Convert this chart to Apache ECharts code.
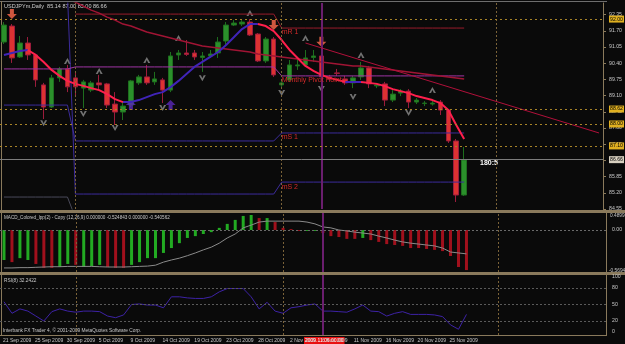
<!DOCTYPE html>
<html><head><meta charset="utf-8">
<script src="https://cdn.jsdelivr.net/npm/echarts@6/dist/echarts.min.js"></script>
<style>html,body{margin:0;padding:0;background:#0a0a0a;}#c{width:625px;height:344px;}</style>
</head><body><div id="c"></div>
<script>
// ---- data ----
const dates = ['21 Sep 2009','22 Sep 2009','23 Sep 2009','24 Sep 2009','25 Sep 2009','27 Sep 2009','28 Sep 2009','29 Sep 2009','30 Sep 2009',
 '1 Oct 2009','2 Oct 2009','4 Oct 2009','5 Oct 2009','6 Oct 2009','7 Oct 2009','8 Oct 2009','9 Oct 2009','11 Oct 2009','12 Oct 2009','13 Oct 2009','14 Oct 2009','15 Oct 2009','16 Oct 2009','18 Oct 2009','19 Oct 2009','20 Oct 2009','21 Oct 2009','22 Oct 2009','23 Oct 2009','25 Oct 2009','26 Oct 2009','27 Oct 2009','28 Oct 2009','29 Oct 2009','30 Oct 2009',
 '1 Nov 2009','2 Nov 2009','3 Nov 2009','4 Nov 2009','5 Nov 2009','6 Nov 2009','8 Nov 2009','9 Nov 2009','10 Nov 2009','11 Nov 2009','12 Nov 2009','13 Nov 2009','15 Nov 2009','16 Nov 2009','17 Nov 2009','18 Nov 2009','19 Nov 2009','20 Nov 2009','22 Nov 2009','23 Nov 2009','24 Nov 2009','25 Nov 2009','26 Nov 2009','27 Nov 2009'];
const futureSlots = 17;
// [open, close, low, high]
const ohlc = [
 [91.25,91.93,91.17,92.05],[91.89,90.61,90.41,91.97],[90.65,91.21,90.61,91.49],[91.21,90.73,90.53,91.45],[90.73,89.73,89.45,90.77],
 [89.53,88.64,88.16,89.61],[88.64,89.81,88.60,89.93],[89.81,90.17,89.65,90.25],[90.17,89.45,89.24,90.33],[89.81,89.45,89.04,90.05],
 [89.40,89.65,88.60,89.73],[89.32,89.61,89.24,89.69],[89.61,89.53,89.32,89.93],[89.57,88.72,88.60,89.61],[88.76,88.44,87.92,89.24],
 [88.44,88.68,88.12,88.84],[88.72,89.69,88.64,89.73],[89.61,89.85,89.53,89.93],[89.85,89.61,89.53,90.33],[89.65,89.77,89.53,90.05],
 [89.73,89.32,88.80,89.81],[89.32,90.69,89.24,90.85],[90.73,90.81,90.53,90.93],[90.81,90.75,90.69,91.33],[90.81,90.65,90.53,90.93],
 [90.63,90.69,90.05,90.85],[90.69,90.77,90.61,90.93],[90.81,91.25,90.61,91.45],[91.29,91.93,91.13,92.05],[91.93,92.01,91.89,92.13],
 [91.97,92.05,91.89,92.13],[92.05,91.53,91.49,92.17],[91.57,90.49,90.45,91.61],[90.49,91.37,90.41,91.45],[91.37,89.93,89.85,91.45],
 [89.53,89.61,89.40,89.73],[89.73,90.33,89.65,90.53],[90.29,90.33,90.13,90.53],[90.33,90.61,90.25,90.93],[90.63,90.69,90.45,90.93],
 [90.69,89.85,89.65,90.93],[89.85,89.77,89.65,89.93],[90.01,89.99,89.89,90.17],[89.77,89.61,89.53,89.89],[89.61,89.81,89.40,89.89],
 [89.85,90.21,89.73,90.45],[90.21,89.57,89.40,90.29],[89.49,89.53,89.40,89.61],[89.57,88.92,88.68,89.65],[88.92,89.16,88.84,89.32],
 [89.20,89.28,89.08,89.36],[89.28,88.84,88.60,89.36],[88.84,88.92,88.76,89.00],[88.78,88.80,88.68,88.88],[88.76,88.80,88.70,88.88],
 [88.84,88.52,88.32,88.92],[88.52,87.28,87.20,88.56],[87.28,85.11,84.83,87.36],[85.11,86.52,85.07,87.04]
];
// colored moving average (blue when rising, red when falling)
const maFast = [90.73,90.81,90.89,90.93,90.73,90.45,90.13,89.89,89.69,89.57,89.49,89.40,89.32,89.16,88.96,88.84,88.84,88.92,89.04,89.16,
 89.24,89.44,89.69,89.97,90.25,90.45,90.65,90.85,91.13,91.45,91.77,91.97,91.97,91.89,91.69,91.33,90.93,90.61,90.29,90.09,
 89.93,89.81,89.73,89.65,89.65,89.65,89.61,89.57,89.48,89.36,89.28,89.20,89.08,89.00,88.92,88.80,88.52,87.92,87.36];
const maSlowStart = 8;
const maSlow = [92.97,92.85,92.69,92.53,92.41,92.25,92.13,91.97,91.89,91.77,91.65,91.57,91.49,91.41,91.33,91.25,91.17,91.09,91.05,
 91.01,90.97,90.93,90.89,90.85,90.77,90.73,90.69,90.65,90.61,90.57,90.53,90.49,90.45,90.41,90.37,90.33,90.29,90.29,90.25,90.21,
 90.17,90.13,90.09,90.05,90.01,89.97,89.93,89.89,89.85,89.81,89.77];
// monthly pivot levels (Sep, Oct, Nov)
const pivMonths = ['Sep','Oct','Nov'];
const pivR1 = [null, 92.37, 91.81];
const pivPP = [90.17, 90.25, 89.89];
const pivS1 = [88.72, 87.28, 87.60];
const pivS2 = [93.20, 85.15, 85.63];
const pivS3 = [85.03, 84.20, null];
// trend lines [index, price]
const trendRed = [[38, 91.21], [75, 87.60]];
const trendTeal = [[22, 92.91], [75, 88.76]];
// markers
const fractalUp = [[8,90.49],[12,90.09],[18,90.53],[22,91.41],[31,92.41],[38,91.41],[45,90.73],[54,89.32]];
const fractalDown = [[5,87.99],[10,88.36],[14,87.80],[20,88.60],[25,89.80],[35,89.20],[40,89.36],[44,89.04],[51,88.40]];
const arrowsDown = [[1,92.37],[34,91.93],[40,91.26]];
const arrowsUp = [[16,88.72],[21,88.72]];
const hLevels = [92.17, 88.56, 87.96, 87.08];
const hLevelText = ['92.00', '88.62', '88.00', '87.10'];
const lastPrice = 86.53, lastPriceText = '86.66';
const monthStarts = [9, 35, 62];
const selectedBar = 40, selectedText = '2009.11.06 00:00';
// MACD
const macdHist = [-0.98,-1.05,-0.92,-0.98,-1.11,-1.24,-1.24,-1.21,-1.11,-1.14,-1.21,-1.18,-1.14,-1.21,-1.24,-1.24,-1.14,-1.05,-0.92,-0.92,
 -0.75,-0.59,-0.43,-0.26,-0.20,-0.13,-0.07,0.07,0.20,0.33,0.46,0.49,0.39,0.39,0.26,0.07,0.03,-0.03,-0.03,-0.03,
 -0.10,-0.20,-0.23,-0.29,-0.29,-0.26,-0.33,-0.39,-0.46,-0.49,-0.52,-0.59,-0.59,-0.62,-0.65,-0.69,-0.85,-1.21,-1.31];
const macdUp = [1,0,1,1,0,0,0,1,1,0,1,1,1,0,0,0,1,1,1,1,1,1,1,1,1,1,1,1,1,1,1,1,0,1,0,0,0,0,1,1,
 0,0,0,0,0,1,0,0,0,0,0,0,0,0,0,0,0,0,0];
const macdSignal = [-1.24,-1.24,-1.23,-1.23,-1.22,-1.21,-1.20,-1.20,-1.19,-1.19,-1.19,-1.19,-1.20,-1.21,-1.21,-1.21,-1.20,-1.19,-1.18,-1.15,
 -1.05,-0.98,-0.92,-0.84,-0.75,-0.65,-0.56,-0.43,-0.26,-0.13,0.07,0.16,0.26,0.29,0.29,0.29,0.29,0.29,0.26,0.20,
 0.10,0.07,0.00,-0.03,-0.07,-0.10,-0.13,-0.20,-0.26,-0.33,-0.39,-0.43,-0.46,-0.49,-0.52,-0.59,-0.72,-0.75,-0.78];
const macdTitle = 'MACD_Colored_lpp(2) - Copy (12,26,9) 0.000000 -0.524843 0.000000 -0.540562';
const macdTop = '0.489902', macdBottom = '-0.569404';
// RSI
const rsi = [55,34,42,38,29,20,37,42,38,36,38,38,37,29,26,31,50,51,49,49,44,64,64,62,61,61,64,73,79,79,
 79,64,42,54,38,34,44,46,49,51,38,38,37,36,42,49,38,37,29,34,37,32,32,32,31,28,13,5,32];
const rsiTitle = 'RSI(8) 32.2422';
const rsiLevels = [0, 20, 50, 80, 100];
const chartTitle = 'USDJPYm,Daily  85.14 87.00 85.00 86.66';
const copyright = 'Interbank FX Trader 4, © 2001-2009 MetaQuotes Software Corp.';
const timerText = '180:5';

// ---- build ----
const cats = dates.concat(Array(futureSlots).fill(''));
const FONT = 'Liberation Sans';
const monthOf = d => pivMonths.findIndex(m => d.indexOf(m) >= 0);
const levelSeries = arr => dates.map(d => { const v = arr[monthOf(d)]; return v == null ? null : v; });

const maUpD = maFast.map(() => null), maDnD = maFast.map(() => null);
for (let i = 1; i < maFast.length; i++) {
  const t = maFast[i] >= maFast[i-1] ? maUpD : maDnD;
  t[i] = maFast[i]; t[i-1] = maFast[i-1];
}
const slowD = dates.map((d, i) => i >= maSlowStart ? maSlow[i - maSlowStart] : null);

const up = '#2b902b', dn = '#dc3232';
const grids = [
  {left: -2, width: 608, top: 3, height: 206},
  {left: -2, width: 608, top: 213, height: 59},
  {left: -2, width: 608, top: 275, height: 60}
];
const xAx = grids.map((g, k) => ({
  type: 'category', gridIndex: k, data: cats, boundaryGap: true,
  axisLine: {show: false}, axisTick: {show: false}, splitLine: {show: false},
  axisLabel: k === 2 ? {show: true, interval: 3, showMinLabel: true, align: 'left', margin: 3, color: '#c8c8c8', fontSize: 5, fontFamily: FONT,
    padding: [0, 0, 0, -1], formatter: v => v} : {show: false}
}));
const axLab = {color: '#c8c8c8', fontSize: 5.2, fontFamily: FONT};
const yAx = [
  {type: 'value', gridIndex: 0, position: 'right', min: 84.55, max: 92.815, interval: 0.65,
   axisLine: {show: true, lineStyle: {color: '#8a7a5c', width: 1}},
   axisTick: {show: true, length: 3, inside: false, lineStyle: {color: '#8a7a5c'}},
   axisLabel: Object.assign({margin: 6, showMaxLabel: false, formatter: v => v.toFixed(2)}, axLab),
   splitLine: {show: false}},
  {type: 'value', gridIndex: 1, position: 'right', min: -1.373, max: 0.556,
   axisLine: {show: true, lineStyle: {color: '#8a7a5c'}}, axisTick: {show: false}, axisLabel: {show: false}, splitLine: {show: false}},
  {type: 'value', gridIndex: 2, position: 'right', min: -5.45, max: 103.64,
   axisLine: {show: true, lineStyle: {color: '#8a7a5c'}}, axisTick: {show: false}, axisLabel: {show: false}, splitLine: {show: false}}
];

const lvlLabel = (txt, bg, col) => ({show: true, position: 'end', formatter: txt, color: col || '#000', backgroundColor: bg,
  fontSize: 5.2, fontFamily: FONT, padding: [1, 1], distance: 6});
const vLines = (gi) => ({
  type: 'line', xAxisIndex: gi, yAxisIndex: gi, data: [], silent: true,
  markLine: {symbol: 'none', silent: true, animation: false, label: {show: false},
    data: monthStarts.map(m => ({xAxis: m, lineStyle: {color: '#7a6238', type: [2, 2], width: 1}}))
      .concat([{xAxis: selectedBar, lineStyle: {color: '#6a1e6e', type: 'solid', width: 2}}])}
});

const arrowDown = 'path://M3,0 L7,0 L7,5 L10,5 L5,10 L0,5 L3,5 Z';
const arrowUp = 'path://M3,10 L7,10 L7,5 L10,5 L5,0 L0,5 L3,5 Z';
const fracUp = 'path://M5,0 L10,8 L7,8 L5,4 L3,8 L0,8 Z';
const fracDn = 'path://M5,8 L10,0 L7,0 L5,4 L3,0 L0,0 Z';
const lblAt = (idx, val, txt) => ({coord: [idx, val], symbolSize: 0,
  label: {show: true, formatter: txt, position: [0, 1], color: '#d42a2a', fontSize: 7, fontFamily: FONT}});

const series = [
  vLines(0), vLines(1), vLines(2),
  {type: 'line', name: 'mS3', data: levelSeries(pivS3), showSymbol: false, lineStyle: {color: '#4a4a5a', width: 1}},
  {type: 'line', name: 'mS2', data: levelSeries(pivS2), showSymbol: false, lineStyle: {color: '#3c2c9c', width: 1},
    markPoint: {animation: false, data: [lblAt(35, pivS2[2], 'mS 2')]}},
  {type: 'line', name: 'mS1', data: levelSeries(pivS1), showSymbol: false, lineStyle: {color: '#3c2c9c', width: 1},
    markPoint: {animation: false, data: [lblAt(35, pivS1[2], 'mS 1')]}},
  {type: 'line', name: 'PP', data: levelSeries(pivPP), showSymbol: false, lineStyle: {color: '#a035a5', width: 1},
    markPoint: {animation: false, data: [lblAt(35, pivPP[2], 'Monthly Pivot Point')]}},
  {type: 'line', name: 'mR1', data: levelSeries(pivR1), showSymbol: false, lineStyle: {color: '#9a1c2c', width: 1},
    markPoint: {animation: false, data: [lblAt(35, pivR1[2], 'mR 1')]}},
  {type: 'line', data: [], silent: true, markLine: {symbol: 'none', silent: true, animation: false, label: {show: false},
    data: [
      [{coord: trendTeal[0], lineStyle: {color: '#1d5f70', width: 1, type: 'solid'}}, {coord: trendTeal[1]}],
      [{coord: trendRed[0], lineStyle: {color: '#b0103a', width: 1, type: 'solid'}}, {coord: trendRed[1]}],
    ].concat(hLevels.map((v, i) => ({yAxis: v, lineStyle: {color: '#a88428', type: [2, 3], width: 1},
        label: lvlLabel(hLevelText[i], '#e0b020')})))
     .concat([{yAxis: lastPrice, lineStyle: {color: '#7c7c7c', type: 'solid', width: 1}, label: lvlLabel(lastPriceText, '#d8d0c0')}])
  }},
  {type: 'line', name: 'slowMA', data: slowD, showSymbol: false, lineStyle: {color: '#a01434', width: 1.5}},
  {type: 'candlestick', data: ohlc, barWidth: 5,
    itemStyle: {color: up, color0: dn, borderColor: '#1e6e1e', borderColor0: '#9c1c3c', borderWidth: 1}},
  {type: 'line', name: 'maUp', data: maUpD, showSymbol: false, lineStyle: {color: '#4024b8', width: 2}},
  {type: 'line', name: 'maDn', data: maDnD, showSymbol: false, lineStyle: {color: '#ff1f4c', width: 2}},
  {type: 'scatter', data: fractalUp, symbol: fracUp, symbolSize: [7, 6], itemStyle: {color: '#8c8c8c'}},
  {type: 'scatter', data: fractalDown, symbol: fracDn, symbolSize: [7, 6], itemStyle: {color: '#8c8c8c'}},
  {type: 'scatter', data: arrowsDown, symbol: arrowDown, symbolSize: [10, 10], itemStyle: {color: '#ff6a4c'}},
  {type: 'scatter', data: arrowsUp, symbol: arrowUp, symbolSize: [10, 10], itemStyle: {color: '#5a28b8'}},
  {type: 'bar', xAxisIndex: 1, yAxisIndex: 1, barWidth: 3,
    data: macdHist.map((v, i) => ({value: v, itemStyle: {color: macdUp[i] ? '#22aa22' : '#a0101c'}})),
    markLine: {symbol: 'none', silent: true, animation: false, data: [
      {yAxis: 0, lineStyle: {color: '#6a6a6a', type: [2, 2], width: 1}, label: {show: true, position: 'end', formatter: '0.00', color: '#c8c8c8', fontSize: 5.2, fontFamily: FONT, distance: 6}}]}},
  {type: 'line', xAxisIndex: 1, yAxisIndex: 1, data: macdSignal, showSymbol: false, lineStyle: {color: '#8a8a8a', width: 1}},
  {type: 'line', xAxisIndex: 2, yAxisIndex: 2, data: rsi, showSymbol: false, lineStyle: {color: '#3d22a6', width: 1},
    markLine: {symbol: 'none', silent: true, animation: false, data: rsiLevels.map(v => ({yAxis: v,
      lineStyle: {color: (v === 0 || v === 100) ? 'rgba(0,0,0,0)' : '#5a5a5a', type: [2, 2], width: 1},
      label: {show: true, position: 'end', formatter: String(v), color: '#c8c8c8', fontSize: 5.2, fontFamily: FONT, distance: 6}}))}}
];

const txt = (x, y, s, c, sz, extra) => Object.assign({type: 'text', left: x, top: y, silent: true,
  style: Object.assign({text: s, fill: c, fontSize: sz, fontFamily: FONT}, extra || {})});
const sepColor = '#8a7a5c';
const graphic = [
  {type: 'rect', shape: {x: 0, y: 1, width: 607, height: 1}, style: {fill: '#6e6e6e'}, silent: true},
  {type: 'rect', shape: {x: 1, y: 1, width: 1, height: 335}, style: {fill: sepColor}, silent: true},
  {type: 'rect', shape: {x: 0, y: 210, width: 625, height: 3}, style: {fill: sepColor}, silent: true},
  {type: 'rect', shape: {x: 0, y: 272, width: 625, height: 3}, style: {fill: sepColor}, silent: true},
  {type: 'rect', shape: {x: 0, y: 335, width: 607, height: 1}, style: {fill: sepColor}, silent: true},
  txt(4, 3, chartTitle, '#d0d0d0', 5.5),
  txt(4, 215, macdTitle, '#c8c8c8', 4.6),
  txt(4, 278, rsiTitle, '#c8c8c8', 4.8),
  txt(3, 328, copyright, '#c8c8c8', 4.8),
  txt(610, 213, macdTop, '#c8c8c8', 4.8),
  txt(609, 268, macdBottom, '#c8c8c8', 4.8),
  txt(480, 160, timerText, '#ffffff', 7, {fontWeight: 'bold'}),
  txt(304, 337, selectedText, '#ffffff', 5, {backgroundColor: '#e81010', padding: [1, 1]})
];

const chart = echarts.init(document.getElementById('c'), null, {renderer: 'canvas'});
chart.setOption({
  backgroundColor: '#0a0a0a', animation: false,
  grid: grids, xAxis: xAx, yAxis: yAx, series: series, graphic: graphic
});
</script></body></html>
